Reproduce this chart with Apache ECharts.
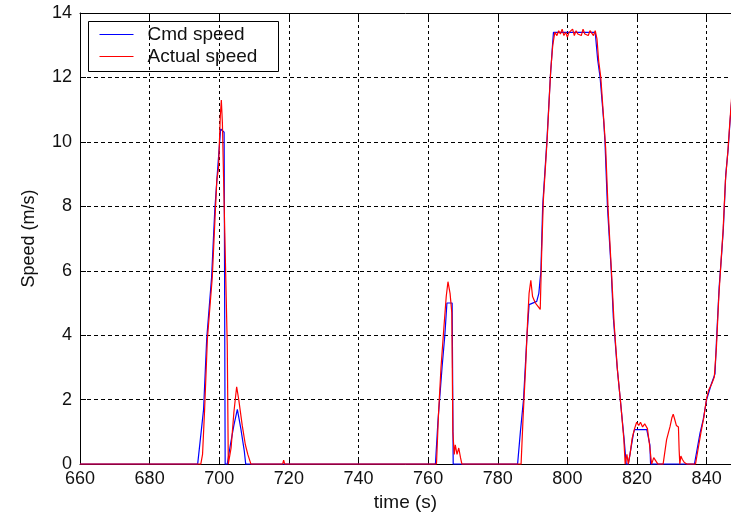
<!DOCTYPE html>
<html>
<head>
<meta charset="utf-8">
<script src="https://cdn.jsdelivr.net/npm/echarts@6/dist/echarts.min.js"></script>
<style>
  html, body { margin: 0; padding: 0; background: #fff; }
  #speedChart { width: 731px; height: 517px; }
</style>
</head>
<body>
<div id="speedChart"></div>
<script>
// axis settings
const timeMin = 660;
const timeMax = 847;
const timeStep = 20;
const speedMax = 14;
const speedStep = 2;

// commanded speed (blue)
const cmdTime = [
  660, 693.8, 694.6, 695.5, 696.4, 697.8, 698.7, 699.5, 700.4, 701.4, 701.7,
  702.3, 703.2, 704.2, 705.2, 706.2, 707.2, 707.6,
  762.1, 762.8, 764.0, 764.8, 765.4, 766.9, 767.2,
  785.7, 786.5, 787.4, 788.4, 789.0, 791.2, 791.8, 792.4, 792.9, 794.1, 795.1, 795.6, 796.0,
  808.0, 808.7, 809.4, 810.4, 810.8, 811.5, 812.6, 813.2, 814.3, 815.2, 816.3, 816.9,
  817.5, 819.0, 819.3, 822.8, 823.7, 823.9,
  836.5, 838.1, 839.0, 840.0, 841.4, 842.4, 842.9, 843.6, 844.3, 844.8, 845.5, 846.2, 846.7, 847.2
];
const cmdSpeed = [
  0, 0, 0.8, 1.7, 3.9, 5.8, 7.85, 9.1, 10.4, 10.3, 0,
  0, 0.6, 1.2, 1.7, 1.1, 0.4, 0,
  0, 1.3, 3.0, 4.0, 5.0, 5.0, 0,
  0, 1.0, 2.0, 4.0, 4.95, 5.05, 5.3, 6.0, 8.0, 10.0, 12.0, 12.8, 13.4,
  13.4, 12.55, 12.0, 10.7, 10.0, 8.0, 6.0, 4.55, 3.0, 2.0, 0.77, 0,
  0, 0.96, 1.07, 1.07, 0.6, 0,
  0, 0.96, 1.37, 2.0, 2.5, 2.8, 4.0, 5.5, 6.5, 7.3, 9.0, 9.8, 10.6, 11.3
];

// measured speed (red)
const actTime = [
  660, 694.7, 695.2, 695.8, 696.6, 698.0, 698.9, 699.3, 699.8, 700.3, 700.6, 700.9, 701.3, 702.3, 702.6,
  703.4, 704.2, 705.0, 705.6, 706.6, 707.5, 708.2, 709.1,
  718.2, 718.5, 718.8,
  762.4, 763.0, 763.7, 764.5, 765.2, 765.7, 766.3, 766.8, 767.1, 767.5, 767.8, 768.3, 768.8, 769.3, 769.7,
  786.7, 787.3, 788.0, 788.6, 789.0, 789.5, 790.0, 790.8, 791.5, 792.2, 792.6, 793.1, 794.2, 795.2, 795.8, 796.4,
  797.0, 797.5, 798.0, 798.5, 799.0, 799.5, 800.0, 800.5, 801.0, 801.5, 802.0, 802.5, 803.0, 803.5,
  804.0, 804.5, 805.0, 805.5, 806.0, 806.5, 807.0, 807.5, 808.0, 808.5,
  809.0, 809.6, 810.5, 811.0, 811.7, 812.7, 813.4, 814.4, 815.3, 816.2, 816.6, 817.1, 817.5,
  818.0, 818.6, 819.3, 819.9, 820.5, 821.0, 821.6, 822.2, 823.0, 823.6, 824.2, 824.8, 825.4, 826.0,
  827.5, 828.5, 829.5, 830.0, 830.4, 830.8, 831.3, 831.9, 832.1, 832.3, 832.6, 833.0, 833.6, 834.3,
  836.8, 837.6, 838.4, 839.2, 840.0, 840.6, 841.5, 842.2, 842.8, 843.5, 844.2, 844.7, 845.4, 846.1, 846.6, 847.2
];
const actSpeed = [
  0, 0, 0.3, 1.7, 3.9, 5.8, 7.9, 8.8, 9.2, 10.8, 11.3, 10.6, 8.6, 3.7, 0,
  0.5, 1.6, 2.4, 2.0, 1.2, 0.6, 0.3, 0,
  0, 0.12, 0,
  0, 1.6, 3.0, 4.2, 5.2, 5.66, 5.3, 4.7, 1.0, 0.3, 0.6, 0.3, 0.5, 0.2, 0,
  0, 1.5, 3.0, 4.5, 5.3, 5.7, 5.2, 5.0, 4.9, 4.8, 6.5, 8.2, 10.1, 12.2, 13.0, 13.4,
  13.3, 13.45, 13.35, 13.5, 13.3, 13.4, 13.25, 13.4, 13.35, 13.5, 13.3, 13.45, 13.35, 13.4,
  13.3, 13.5, 13.35, 13.4, 13.3, 13.45, 13.5, 13.3, 13.45, 13.2,
  12.5, 12.0, 10.6, 9.8, 7.9, 5.9, 4.4, 2.9, 1.9, 0.8, 0, 0.3, 0,
  0.3, 0.8, 1.1, 1.3, 1.2, 1.3, 1.15, 1.25, 1.1, 0.6, 0, 0.2, 0.1, 0,
  0, 0.76, 1.17, 1.43, 1.55, 1.4, 1.2, 1.15, 0.45, 0, 0.25, 0.15, 0.05, 0,
  0, 0.5, 1.0, 1.45, 2.05, 2.3, 2.5, 2.7, 3.6, 5.2, 6.4, 7.2, 8.8, 9.7, 10.5, 11.4
];

const legendNames = ['Cmd speed', 'Actual speed'];
const lineColors = ['#0000ff', '#ff0000'];

function pairs(xs, ys) {
  return xs.map((x, i) => [x, ys[i]]);
}

function setSpeedChart() {
  let chartDom = document.getElementById('speedChart');
  let chart = echarts.init(chartDom, null, { renderer: 'canvas' });
  const txt = '#111';
  const font = 'Liberation Sans, Arial, sans-serif';

  let option = {
    animation: false,
    backgroundColor: '#fff',
    grid: { left: 80, right: 0, top: 13, bottom: 49 },
    xAxis: [
      {
        type: 'value',
        min: timeMin,
        max: timeMax,
        interval: timeStep,
        name: 'time (s)',
        nameLocation: 'middle',
        nameGap: 27,
        nameTextStyle: { color: txt, fontSize: 19, fontFamily: font },
        axisLine: { lineStyle: { color: '#000', width: 1 } },
        axisTick: { inside: true, length: 6, lineStyle: { color: '#000' } },
        axisLabel: {
          color: txt, fontSize: 18, fontFamily: font, margin: 6, showMaxLabel: false,
          formatter: v => (v % timeStep === 0 ? String(v) : '')
        },
        splitLine: {
          show: true, showMinLine: false, showMaxLine: false,
          lineStyle: { color: '#000', width: 1, type: [3, 3] }
        }
      },
      {
        // top border with inward ticks
        type: 'value',
        position: 'top',
        min: timeMin,
        max: timeMax,
        interval: timeStep,
        axisLine: { show: true, lineStyle: { color: '#000', width: 1 } },
        axisTick: { show: true, inside: true, length: 6, lineStyle: { color: '#000' } },
        axisLabel: { show: false },
        splitLine: { show: false }
      }
    ],
    yAxis: {
      type: 'value',
      min: 0,
      max: speedMax,
      interval: speedStep,
      name: 'Speed (m/s)',
      nameLocation: 'middle',
      nameGap: 42,
      nameTextStyle: { color: txt, fontSize: 18, fontFamily: font },
      axisLine: { show: true, lineStyle: { color: '#000', width: 1 } },
      axisTick: { show: true, inside: true, length: 6, lineStyle: { color: '#000' } },
      axisLabel: { color: txt, fontSize: 18, fontFamily: font, margin: 8 },
      splitLine: {
        show: true, showMinLine: false, showMaxLine: false,
        lineStyle: { color: '#000', width: 1, type: [4, 3] }
      }
    },
    series: [
      {
        name: legendNames[0],
        type: 'line',
        data: pairs(cmdTime, cmdSpeed),
        showSymbol: false,
        lineStyle: { color: lineColors[0], width: 1.2 },
        z: 2
      },
      {
        name: legendNames[1],
        type: 'line',
        data: pairs(actTime, actSpeed),
        showSymbol: false,
        lineStyle: { color: lineColors[1], width: 1.2 },
        z: 3
      }
    ],
    // matlab style legend box
    graphic: [
      {
        type: 'group', left: 88, top: 21, z: 100,
        children: [
          { type: 'rect', shape: { x: 0, y: 0, width: 190, height: 50 },
            style: { fill: '#fff', stroke: '#000', lineWidth: 1 } },
          { type: 'line', shape: { x1: 11, y1: 13, x2: 45, y2: 13 },
            style: { stroke: lineColors[0], lineWidth: 1.2 } },
          { type: 'text', x: 59, y: 13,
            style: { text: legendNames[0], fill: txt, font: '19px ' + font, verticalAlign: 'middle' } },
          { type: 'line', shape: { x1: 11, y1: 35, x2: 45, y2: 35 },
            style: { stroke: lineColors[1], lineWidth: 1.2 } },
          { type: 'text', x: 59, y: 35,
            style: { text: legendNames[1], fill: txt, font: '19px ' + font, verticalAlign: 'middle' } }
        ]
      }
    ]
  };

  chart.setOption(option);
}

setSpeedChart();
</script>
</body>
</html>
